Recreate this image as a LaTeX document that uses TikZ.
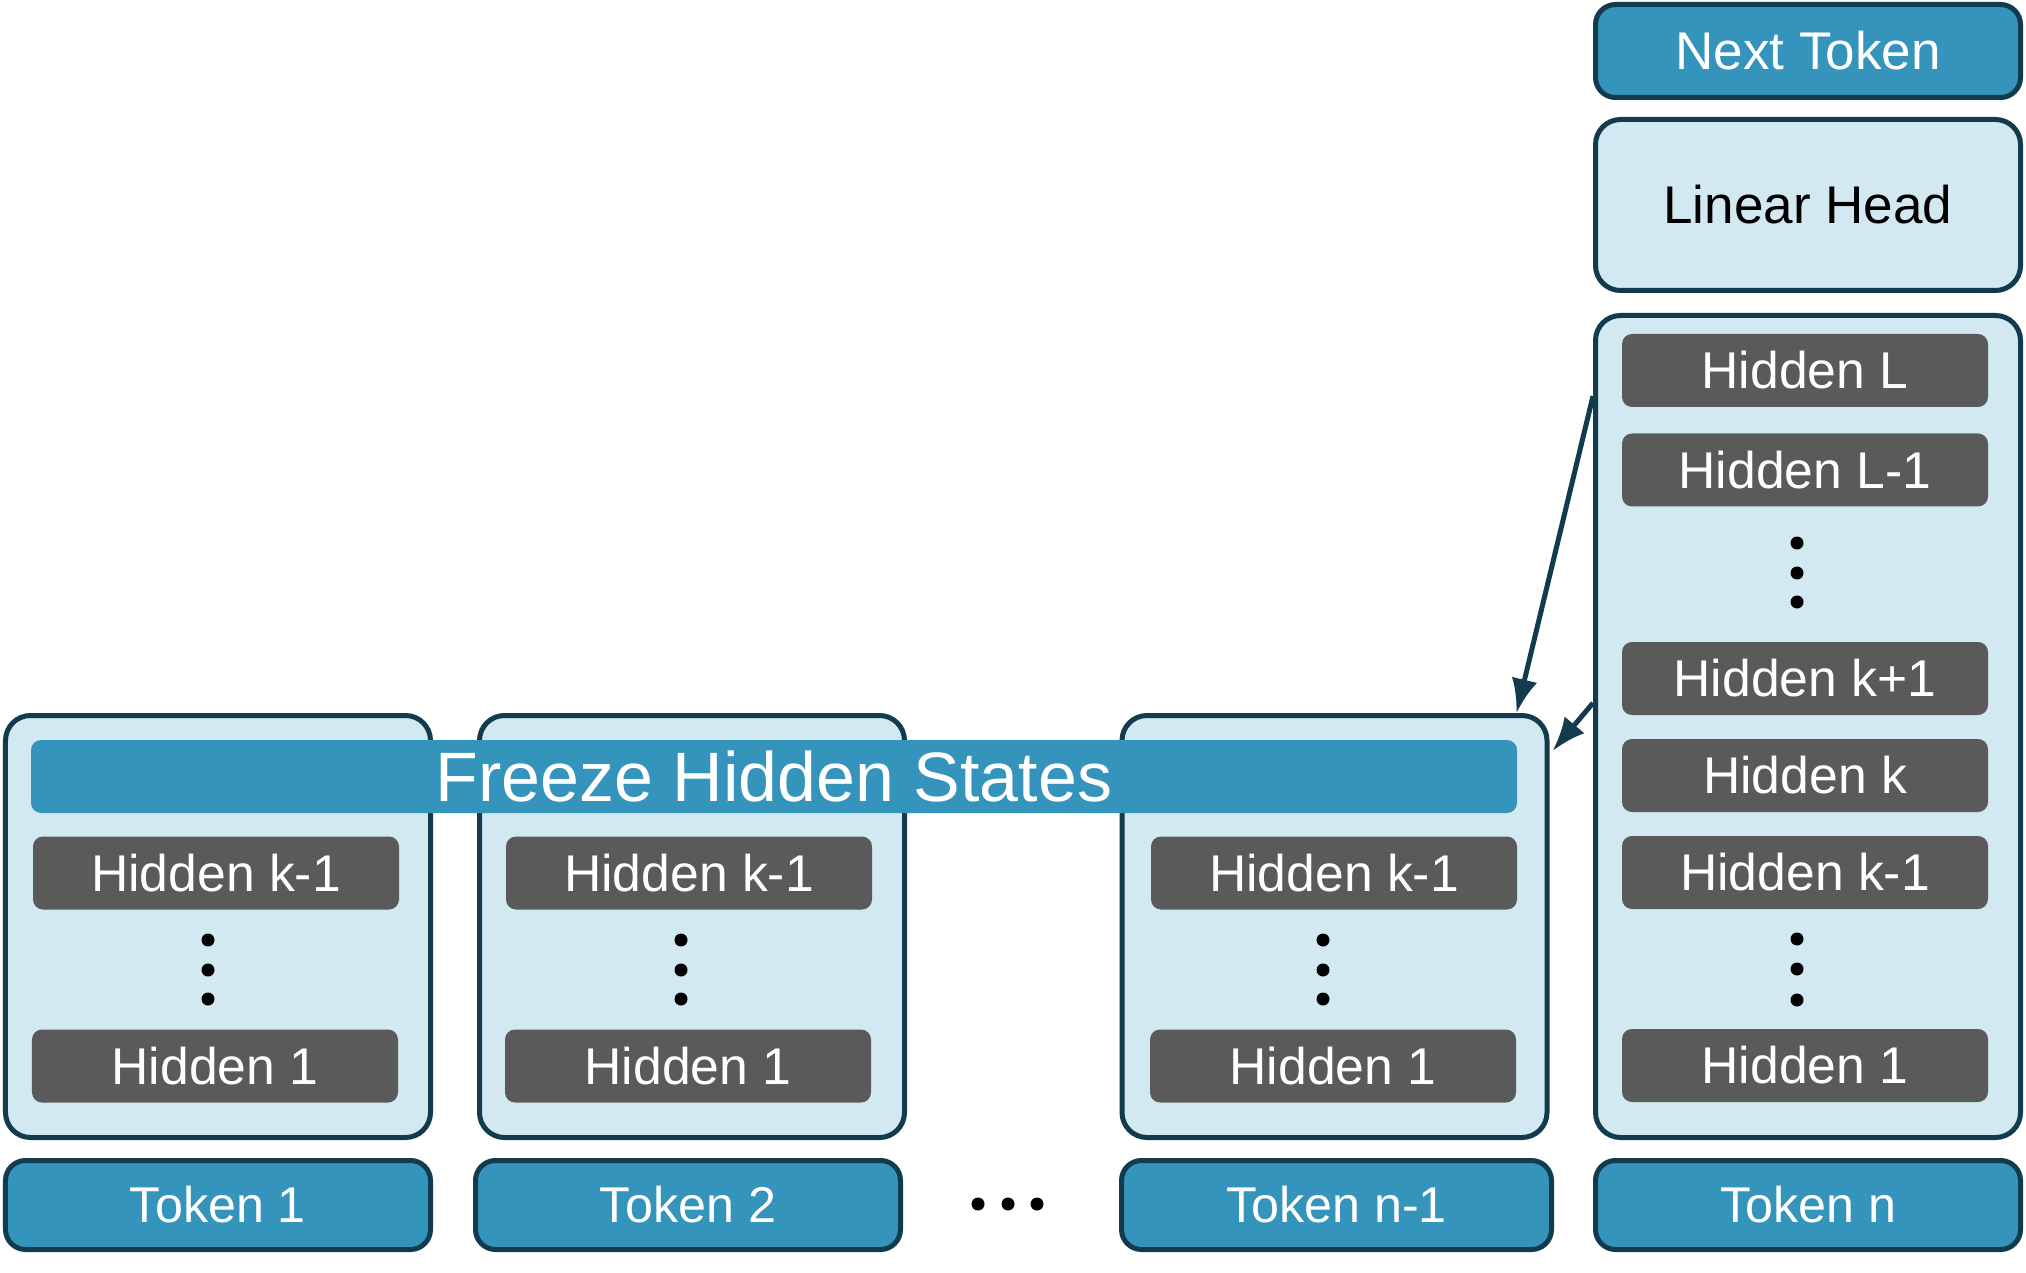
\documentclass[tikz,border=0pt]{standalone}
\usepackage{fontspec}
\setmainfont{Liberation Sans}
\usepackage{xcolor}
\usetikzlibrary{arrows.meta}
\definecolor{edge}{HTML}{123C4E}
\definecolor{pale}{HTML}{D3E9F2}
\definecolor{tokblue}{HTML}{3594BB}
\definecolor{grey}{HTML}{5A5A5A}

\tikzset{
  colbox/.style={draw=edge, fill=pale, line width=0.05cm, rounded corners=0.25cm,
    minimum width=4.25cm, inner sep=0pt},
  tokbox/.style={draw=edge, fill=tokblue, line width=0.05cm, rounded corners=0.2cm,
    minimum width=4.25cm, minimum height=0.89cm, inner sep=0pt,
    text=white, font=\fontsize{14.3}{16}\selectfont},
  hidbox/.style={fill=grey, rounded corners=0.1cm, minimum width=3.66cm,
    minimum height=0.73cm, inner sep=0pt, text=white, font=\fontsize{14.7}{16}\selectfont},
  freezebar/.style={fill=tokblue, rounded corners=0.1cm, minimum width=14.86cm,
    minimum height=0.73cm, inner sep=0pt, text=white, font=\fontsize{19.9}{22}\selectfont},
  copyarrow/.style={-{Latex[length=0.34cm,width=0.26cm]}, draw=edge, fill=edge, line width=0.05cm},
}

\begin{document}
\begin{tikzpicture}
         \useasboundingbox (0,0) rectangle (20.26,12.72);

         % input tokens
         \node[tokbox] (tok1) at (2.18, 0.67) {Token 1};
         \node[tokbox] (tok2) at (6.88, 0.67) {Token 2};
         \node[tokbox, minimum width=4.30cm] (tokm) at (13.365, 0.67) {Token n-1};
         \node[tokbox] (tokn) at (18.08, 0.67) {Token n};

         \fill (9.78, 0.68) circle [radius=0.065];
         \fill (10.08, 0.68) circle [radius=0.065];
         \fill (10.37, 0.68) circle [radius=0.065];

         % columns of hidden states
         \node[colbox, minimum height=4.22cm] (col1) at (2.18, 3.455) {};
         \node[colbox, minimum height=4.22cm] (col2) at (6.92, 3.455) {};
         \node[colbox, minimum height=4.22cm] (colm) at (13.345, 3.455) {};
         \node[colbox, minimum height=8.22cm] (coln) at (18.08, 5.455) {};

         % token 1
         \node[hidbox] (h1k) at (2.16, 3.99) {Hidden k-1};
         \fill (2.08, 3.32) circle [radius=0.065];
         \fill (2.08, 3.02) circle [radius=0.065];
         \fill (2.08, 2.73) circle [radius=0.065];
         \node[hidbox] (h1one) at (2.15, 2.06) {Hidden 1};

         % token 2
         \node[hidbox] (h2k) at (6.89, 3.99) {Hidden k-1};
         \fill (6.81, 3.32) circle [radius=0.065];
         \fill (6.81, 3.02) circle [radius=0.065];
         \fill (6.81, 2.73) circle [radius=0.065];
         \node[hidbox] (h2one) at (6.88, 2.06) {Hidden 1};

         % token n-1
         \node[hidbox] (hmk) at (13.34, 3.99) {Hidden k-1};
         \fill (13.23, 3.32) circle [radius=0.065];
         \fill (13.23, 3.02) circle [radius=0.065];
         \fill (13.23, 2.73) circle [radius=0.065];
         \node[hidbox] (hmone) at (13.33, 2.06) {Hidden 1};

         % token n
         \node[hidbox] (hnL) at (18.05, 9.015) {Hidden L};
         \node[hidbox] (hnLm) at (18.05, 8.02) {Hidden L-1};
         \fill (17.97, 7.29) circle [radius=0.065];
         \fill (17.97, 6.99) circle [radius=0.065];
         \fill (17.97, 6.70) circle [radius=0.065];
         \node[hidbox] (hnkp) at (18.05, 5.935) {Hidden k+1};
         \node[hidbox] (hnk) at (18.05, 4.965) {Hidden k};
         \node[hidbox] (hnkm) at (18.05, 3.995) {Hidden k-1};
         \fill (17.97, 3.33) circle [radius=0.065];
         \fill (17.97, 3.03) circle [radius=0.065];
         \fill (17.97, 2.72) circle [radius=0.065];
         \node[hidbox] (hnone) at (18.05, 2.065) {Hidden 1};

         % frozen layers
         \node[freezebar] (freeze) at (7.74, 4.955) {Freeze Hidden States};

         % output
         \node[colbox, minimum height=1.71cm, font=\fontsize{15.1}{17}\selectfont] (head) at (18.08, 10.67) {Linear Head};
         \node[tokbox, minimum height=0.93cm, font=\fontsize{15.1}{17}\selectfont] (next) at (18.08, 12.21) {Next Token};

         % reuse of frozen states
         \coordinate (fromL) at ([yshift=-0.83cm]coln.north west);
         \coordinate (fromK) at ([yshift=-3.90cm]coln.north west);
         \draw[copyarrow] (fromL) -- ([xshift=-0.33cm]colm.north east);
         \draw[copyarrow] (fromK) -- ([shift={(0.03cm,-0.38cm)}]colm.north east);
      \end{tikzpicture}
\end{document}
